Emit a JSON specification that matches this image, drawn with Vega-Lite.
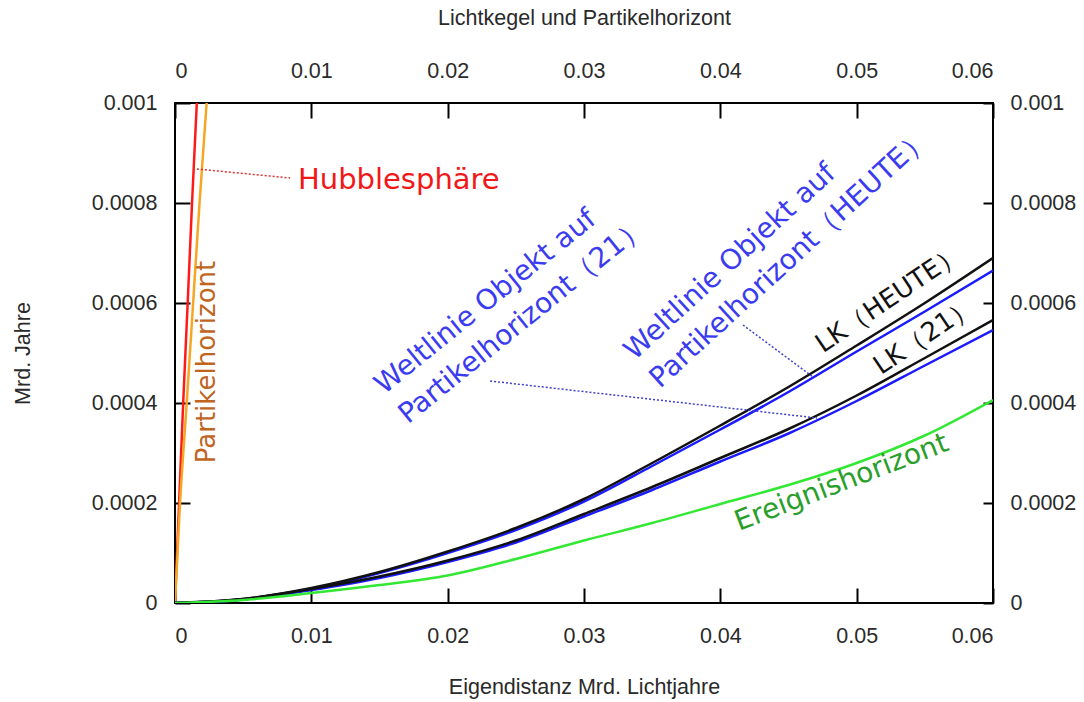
{
  "$schema": "https://vega.github.io/schema/vega-lite/v6.json",
  "width": 818,
  "height": 500,
  "autosize": {"type": "none"},
  "padding": {"left": 175, "top": 103, "right": 91, "bottom": 99},
  "background": "white",
  "config": {
    "view": {"stroke": "#000", "strokeWidth": 2},
    "axis": {
      "labelFont": "Liberation Sans", "labelFontSize": 21.5, "labelColor": "#2a2a2a",
      "titleFont": "Liberation Sans", "titleFontSize": 21.5, "titleFontWeight": "normal", "titleColor": "#2a2a2a",
      "domain": false, "grid": false, "tickColor": "#000", "tickWidth": 2
    }
  },
  "datasets": {
    "curves": [
      {"series": "Hubble", "x": 0, "y": 0}, {"series": "Hubble", "x": 0.0003, "y": 0.0002}, {"series": "Hubble", "x": 0.0006, "y": 0.0004}, {"series": "Hubble", "x": 0.00093, "y": 0.0006}, {"series": "Hubble", "x": 0.00125, "y": 0.0008}, {"series": "Hubble", "x": 0.0016, "y": 0.001},
      {"series": "Partikel", "x": 0, "y": 0}, {"series": "Partikel", "x": 0.00037, "y": 0.0002}, {"series": "Partikel", "x": 0.00086, "y": 0.0004}, {"series": "Partikel", "x": 0.00133, "y": 0.0006}, {"series": "Partikel", "x": 0.0018, "y": 0.0008}, {"series": "Partikel", "x": 0.00232, "y": 0.001},
      {"series": "WL21", "x": 0, "y": 0}, {"series": "WL21", "x": 0.005, "y": 0.000007}, {"series": "WL21", "x": 0.01, "y": 0.000026}, {"series": "WL21", "x": 0.015, "y": 0.00005}, {"series": "WL21", "x": 0.02, "y": 0.000082}, {"series": "WL21", "x": 0.025, "y": 0.000121}, {"series": "WL21", "x": 0.03, "y": 0.000173}, {"series": "WL21", "x": 0.035, "y": 0.000226}, {"series": "WL21", "x": 0.04, "y": 0.000283}, {"series": "WL21", "x": 0.045, "y": 0.000339}, {"series": "WL21", "x": 0.05, "y": 0.000404}, {"series": "WL21", "x": 0.055, "y": 0.000475}, {"series": "WL21", "x": 0.06, "y": 0.000546},
      {"series": "WLHEUTE", "x": 0, "y": 0}, {"series": "WLHEUTE", "x": 0.005, "y": 0.000007}, {"series": "WLHEUTE", "x": 0.01, "y": 0.000028}, {"series": "WLHEUTE", "x": 0.015, "y": 0.00006}, {"series": "WLHEUTE", "x": 0.02, "y": 0.0001}, {"series": "WLHEUTE", "x": 0.025, "y": 0.000146}, {"series": "WLHEUTE", "x": 0.03, "y": 0.000203}, {"series": "WLHEUTE", "x": 0.035, "y": 0.000274}, {"series": "WLHEUTE", "x": 0.04, "y": 0.000347}, {"series": "WLHEUTE", "x": 0.045, "y": 0.000422}, {"series": "WLHEUTE", "x": 0.05, "y": 0.000503}, {"series": "WLHEUTE", "x": 0.055, "y": 0.000583}, {"series": "WLHEUTE", "x": 0.06, "y": 0.000665},
      {"series": "LK21", "x": 0, "y": 0}, {"series": "LK21", "x": 0.005, "y": 0.000008}, {"series": "LK21", "x": 0.01, "y": 0.000028}, {"series": "LK21", "x": 0.015, "y": 0.000053}, {"series": "LK21", "x": 0.02, "y": 0.000085}, {"series": "LK21", "x": 0.025, "y": 0.000125}, {"series": "LK21", "x": 0.03, "y": 0.000178}, {"series": "LK21", "x": 0.035, "y": 0.000232}, {"series": "LK21", "x": 0.04, "y": 0.00029}, {"series": "LK21", "x": 0.045, "y": 0.000348}, {"series": "LK21", "x": 0.05, "y": 0.000415}, {"series": "LK21", "x": 0.055, "y": 0.00049}, {"series": "LK21", "x": 0.06, "y": 0.000566},
      {"series": "LKHEUTE", "x": 0, "y": 0}, {"series": "LKHEUTE", "x": 0.005, "y": 0.000008}, {"series": "LKHEUTE", "x": 0.01, "y": 0.00003}, {"series": "LKHEUTE", "x": 0.015, "y": 0.000062}, {"series": "LKHEUTE", "x": 0.02, "y": 0.000103}, {"series": "LKHEUTE", "x": 0.025, "y": 0.00015}, {"series": "LKHEUTE", "x": 0.03, "y": 0.000208}, {"series": "LKHEUTE", "x": 0.035, "y": 0.00028}, {"series": "LKHEUTE", "x": 0.04, "y": 0.000355}, {"series": "LKHEUTE", "x": 0.045, "y": 0.000432}, {"series": "LKHEUTE", "x": 0.05, "y": 0.000515}, {"series": "LKHEUTE", "x": 0.055, "y": 0.0006}, {"series": "LKHEUTE", "x": 0.06, "y": 0.00069},
      {"series": "Ereignis", "x": 0, "y": 0}, {"series": "Ereignis", "x": 0.005, "y": 0.000006}, {"series": "Ereignis", "x": 0.01, "y": 0.00002}, {"series": "Ereignis", "x": 0.015, "y": 0.000036}, {"series": "Ereignis", "x": 0.02, "y": 0.000055}, {"series": "Ereignis", "x": 0.025, "y": 0.000088}, {"series": "Ereignis", "x": 0.03, "y": 0.000125}, {"series": "Ereignis", "x": 0.035, "y": 0.00016}, {"series": "Ereignis", "x": 0.04, "y": 0.000198}, {"series": "Ereignis", "x": 0.045, "y": 0.000236}, {"series": "Ereignis", "x": 0.05, "y": 0.00028}, {"series": "Ereignis", "x": 0.055, "y": 0.000335}, {"series": "Ereignis", "x": 0.06, "y": 0.000406}
    ],
    "pointers": [
      {"group": "red", "x": 0.00161, "y": 0.000868, "x2": 0.00844, "y2": 0.00085},
      {"group": "blue", "x": 0.02311, "y": 0.000444, "x2": 0.04709, "y2": 0.00037},
      {"group": "blue", "x": 0.04166, "y": 0.000556, "x2": 0.0468, "y2": 0.000452}
    ],
    "labels": [
      {"label": "Hubblesphäre", "x": 0.00902, "y": 0.000846},
      {"label": "Partikelhorizont", "x": 0.00235, "y": 0.000482},
      {"label": "Weltlinie Objekt auf\nPartikelhorizont（21）", "x": 0.01533, "y": 0.000416},
      {"label": "Weltlinie Objekt auf\nPartikelhorizont（HEUTE）", "x": 0.0337, "y": 0.000484},
      {"label": "LK（HEUTE）", "x": 0.0524, "y": 0.000608},
      {"label": "LK（21）", "x": 0.055, "y": 0.000534},
      {"label": "Ereignishorizont", "x": 0.0489, "y": 0.00024}
    ]
  },
  "layer": [
    {
      "data": {"name": "curves"},
      "mark": {"type": "line", "strokeWidth": 2.5, "clip": true, "interpolate": "monotone"},
      "encoding": {
        "x": {"field": "x", "type": "quantitative", "scale": {"domain": [0, 0.06], "nice": false, "zero": false},
          "axis": {"orient": "bottom", "values": [0, 0.01, 0.02, 0.03, 0.04, 0.05, 0.06], "format": "~g", "tickSize": -15, "labelPadding": 37,
            "title": "Eigendistanz Mrd. Lichtjahre", "titleY": 84, "titleBaseline": "middle"}},
        "y": {"field": "y", "type": "quantitative", "scale": {"domain": [0, 0.001], "nice": false, "zero": false},
          "axis": {"orient": "left", "values": [0, 0.0002, 0.0004, 0.0006, 0.0008, 0.001], "format": "~g", "tickSize": -15, "labelPadding": 33,
            "title": "Mrd. Jahre", "titleX": -152, "titleBaseline": "middle", "titleAngle": -90}},
        "color": {"field": "series", "type": "nominal",
          "scale": {"domain": ["Hubble", "Partikel", "WL21", "WLHEUTE", "LK21", "LKHEUTE", "Ereignis"],
            "range": ["#ff1a1a", "#f5a623", "#1a1aff", "#1a1aff", "#111111", "#111111", "#33e833"]}, "legend": null}
      }
    },
    {
      "data": {"name": "pointers"},
      "transform": [{"filter": "datum.group == 'red'"}],
      "mark": {"type": "rule", "color": "#e03030", "strokeWidth": 1.5, "strokeDash": [2, 2]},
      "encoding": {
        "x": {"field": "x", "type": "quantitative",
          "axis": {"orient": "top", "values": [0, 0.01, 0.02, 0.03, 0.04, 0.05, 0.06], "format": "~g", "tickSize": -15, "labelPadding": 36,
            "title": "Lichtkegel und Partikelhorizont", "titleY": -85, "titleBaseline": "middle"}},
        "y": {"field": "y", "type": "quantitative",
          "axis": {"orient": "right", "values": [0, 0.0002, 0.0004, 0.0006, 0.0008, 0.001], "format": "~g", "tickSize": -10, "labelPadding": 27, "title": null}},
        "x2": {"field": "x2"},
        "y2": {"field": "y2"}
      }
    },
    {
      "data": {"name": "pointers"},
      "transform": [{"filter": "datum.group == 'blue'"}],
      "mark": {"type": "rule", "color": "#4040d0", "strokeWidth": 1.5, "strokeDash": [2, 2]},
      "encoding": {
        "x": {"field": "x", "type": "quantitative", "axis": null},
        "y": {"field": "y", "type": "quantitative", "axis": null},
        "x2": {"field": "x2"},
        "y2": {"field": "y2"}
      }
    },
    {
      "data": {"name": "labels"},
      "transform": [{"filter": "datum.label == 'Hubblesphäre'"}],
      "mark": {"type": "text", "font": "DejaVu Sans", "fontSize": 29, "color": "#f01818", "align": "left", "baseline": "middle"},
      "encoding": {"x": {"field": "x", "type": "quantitative", "axis": null}, "y": {"field": "y", "type": "quantitative", "axis": null}, "text": {"field": "label"}}
    },
    {
      "data": {"name": "labels"},
      "transform": [{"filter": "datum.label == 'Partikelhorizont'"}],
      "mark": {"type": "text", "font": "DejaVu Sans", "fontSize": 26, "color": "#c0651f", "align": "center", "baseline": "middle", "angle": -90},
      "encoding": {"x": {"field": "x", "type": "quantitative", "axis": null}, "y": {"field": "y", "type": "quantitative", "axis": null}, "text": {"field": "label"}}
    },
    {
      "data": {"name": "labels"},
      "transform": [{"filter": "indexof(datum.label, '（21）') > 0 && indexof(datum.label, 'Weltlinie') == 0"}],
      "mark": {"type": "text", "font": "DejaVu Sans", "fontSize": 28, "color": "#3b3bf0", "align": "left", "baseline": "alphabetic", "angle": -39, "lineBreak": "\n", "lineHeight": 38},
      "encoding": {"x": {"field": "x", "type": "quantitative", "axis": null}, "y": {"field": "y", "type": "quantitative", "axis": null}, "text": {"field": "label"}}
    },
    {
      "data": {"name": "labels"},
      "transform": [{"filter": "indexof(datum.label, '（HEUTE）') > 0 && indexof(datum.label, 'Weltlinie') == 0"}],
      "mark": {"type": "text", "font": "DejaVu Sans", "fontSize": 28, "color": "#3b3bf0", "align": "left", "baseline": "alphabetic", "angle": -42.5, "lineBreak": "\n", "lineHeight": 38},
      "encoding": {"x": {"field": "x", "type": "quantitative", "axis": null}, "y": {"field": "y", "type": "quantitative", "axis": null}, "text": {"field": "label"}}
    },
    {
      "data": {"name": "labels"},
      "transform": [{"filter": "indexof(datum.label, 'LK') == 0"}],
      "mark": {"type": "text", "font": "DejaVu Sans", "fontSize": 26, "color": "#111", "align": "center", "baseline": "middle", "angle": -34},
      "encoding": {"x": {"field": "x", "type": "quantitative", "axis": null}, "y": {"field": "y", "type": "quantitative", "axis": null}, "text": {"field": "label"}}
    },
    {
      "data": {"name": "labels"},
      "transform": [{"filter": "datum.label == 'Ereignishorizont'"}],
      "mark": {"type": "text", "font": "DejaVu Sans", "fontSize": 28, "color": "#2a9e2a", "align": "center", "baseline": "middle", "angle": -21},
      "encoding": {"x": {"field": "x", "type": "quantitative", "axis": null}, "y": {"field": "y", "type": "quantitative", "axis": null}, "text": {"field": "label"}}
    }
  ],
  "resolve": {"axis": {"x": "independent", "y": "independent"}}
}
